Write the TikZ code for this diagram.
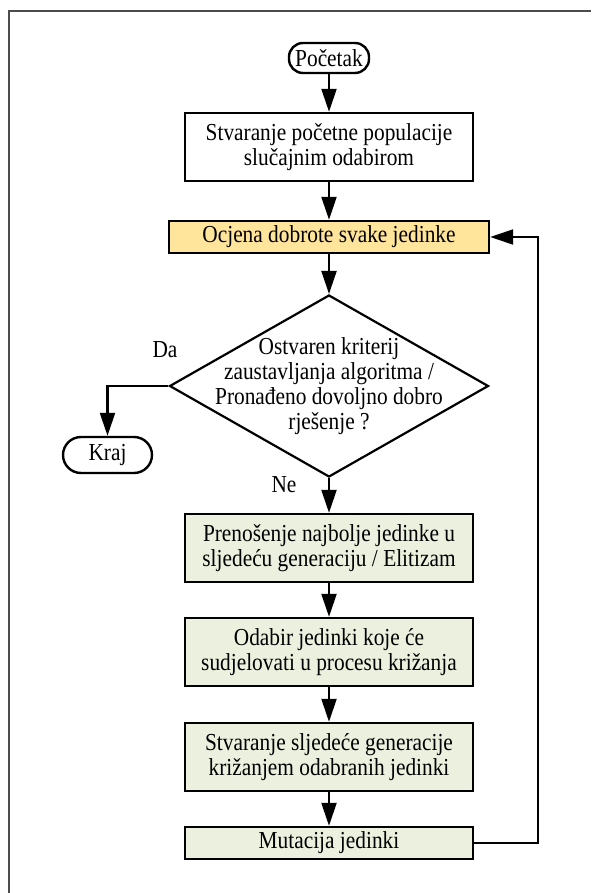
\documentclass[tikz,border=0pt]{standalone}
\usepackage{fontspec}
\setmainfont{Liberation Serif}[FakeStretch=0.875]
\usetikzlibrary{arrows.meta,shapes.geometric}
\definecolor{evalfill}{RGB}{255,229,156}
\definecolor{stepfill}{RGB}{235,241,222}
\begin{document}
\begin{tikzpicture}[x=0.5pt,y=-0.5pt,
  font=\fontsize{12.2}{12.5}\selectfont,
  term/.style={draw, line width=1.2pt, rounded corners=7pt, inner sep=0pt},
  proc/.style={draw, line width=1.2pt, minimum width=144pt, inner xsep=2pt, inner ysep=0pt, align=center},
  decis/.style={draw, diamond, line width=1.1pt, minimum width=159.5pt, minimum height=91pt, inner sep=0pt},
  flow/.style={line width=1.1pt, -{Triangle[length=11.5pt,width=7.5pt]}}]
\useasboundingbox (0,0) rectangle (591,893);
\draw[gray!60!black, line width=0.7pt] (9,893) -- (9,11) -- (591,11);
\node[term, minimum width=40pt, minimum height=15pt] (start) at (329,58) {Početak};
\node[proc, minimum height=34pt] (init) at (329,147) {Stvaranje početne populacije\\slučajnim odabirom};
\node[proc, fill=evalfill, minimum width=160pt, minimum height=16pt] (eval) at (329,237) {Ocjena dobrote svake jedinke};
\node[decis] (crit) at (329,386) {};
\node[align=center] (critText) at (crit) {Ostvaren kriterij\\zaustavljanja algoritma /\\Pronađeno dovoljno dobro\\rješenje ?};
\node[term, minimum width=44.5pt, minimum height=18pt, rounded corners=9pt] (kraj) at (107.5,455) {Kraj};
\node (da) at (165,350) {Da};
\node (ne) at (284,485) {Ne};
\node[proc, fill=stepfill, minimum height=34pt] (elit) at (329,548) {Prenošenje najbolje jedinke u\\sljedeću generaciju / Elitizam};
\node[proc, fill=stepfill, minimum height=34pt] (sel) at (329,652) {Odabir jedinki koje će\\sudjelovati u procesu križanja};
\node[proc, fill=stepfill, minimum height=34pt] (cross) at (329,757) {Stvaranje sljedeće generacije\\križanjem odabranih jedinki};
\node[proc, fill=stepfill, minimum height=16pt] (mut) at (329,843) {Mutacija jedinki};
\coordinate (back) at (538,237);
\draw[flow] (start) -- (init);
\draw[flow] (init) -- (eval);
\draw[flow] (eval) -- (crit);
\draw[flow] (crit.west) -| (kraj);
\draw[flow] (crit) -- (elit);
\draw[flow] (elit) -- (sel);
\draw[flow] (sel) -- (cross);
\draw[flow] (cross) -- (mut);
\draw[flow] (mut) -| (back) -- (eval);
\end{tikzpicture}
\end{document}
